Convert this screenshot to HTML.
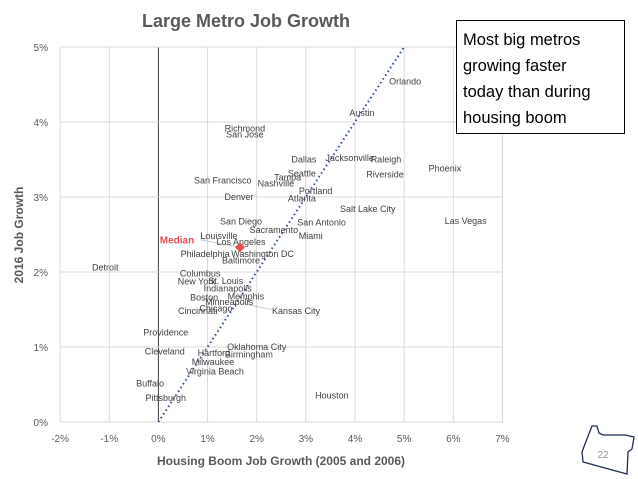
<!DOCTYPE html>
<html><head><meta charset="utf-8">
<style>
body{margin:0;background:#fff;}
svg{display:block;font-family:"Liberation Sans",sans-serif;}
</style></head>
<body>
<svg id="chart" width="638" height="479" viewBox="0 0 638 479">
<text x="246" y="27" text-anchor="middle" font-size="18" font-weight="bold" fill="#595959">Large Metro Job Growth</text>
<g id="grid"></g>
<g id="ticks"></g>
<g id="marks"></g>
<text x="458" y="464" text-anchor="middle" font-size="0" fill="#fff"></text>
<text x="281" y="465" text-anchor="middle" font-size="12" font-weight="bold" fill="#595959">Housing Boom Job Growth (2005 and 2006)</text>
<text transform="translate(23,235) rotate(-90)" text-anchor="middle" font-size="12" font-weight="bold" fill="#595959">2016 Job Growth</text>
<g>
<rect x="456.5" y="20.5" width="168" height="113" fill="#fff" stroke="#000" stroke-width="1"/>
<text font-size="16.5" fill="#000"><tspan x="463" y="45">Most big metros</tspan><tspan x="463" y="71">growing faster</tspan><tspan x="463" y="97">today than during</tspan><tspan x="463" y="123">housing boom</tspan></text>
</g>
<g>
<path d="M592,426 L597,426 L599,433 L603,435 L625,435 L634,437 L632,449 L628,452 L627,474 L583,462 L582,452 L585,444 Z" fill="none" stroke="#1f2f4f" stroke-width="1.3"/>
<text x="603" y="458" text-anchor="middle" font-size="10" fill="#999">22</text>
</g>
</svg>
<script>
const xTicks=[-2,-1,0,1,2,3,4,5,6,7];
const yTicks=[0,1,2,3,4,5];
const cities=["Orlando","Austin","Richmond","San Jose","Dallas","Jacksonville","Raleigh","Phoenix","Riverside","Seattle","Tampa","San Francisco","Nashville","Portland","Denver","Atlanta","Salt Lake City","Las Vegas","San Diego","San Antonio","Sacramento","Miami","Louisville","Los Angeles","Philadelphia","Washington DC","Baltimore","Detroit","Columbus","New York","St. Louis","Indianapolis","Boston","Memphis","Minneapolis","Chicago","Cincinnati","Kansas City","Providence","Oklahoma City","Cleveland","Hartford","Birmingham","Milwaukee","Virginia Beach","Buffalo","Pittsburgh","Houston"];
const boomGrowth=[5.02,4.14,1.76,1.76,2.96,3.89,4.63,5.83,4.61,2.92,2.63,1.31,2.39,3.2,1.64,2.92,4.26,6.25,1.68,3.32,2.35,3.1,1.23,1.68,0.95,2.12,1.68,-1.08,0.85,0.78,1.37,1.41,0.93,1.78,1.44,1.17,0.8,2.8,0.15,2.0,0.13,1.13,1.84,1.11,1.15,-0.17,0.15,3.53];
const growth2016=[4.55,4.13,3.92,3.84,3.51,3.53,3.51,3.39,3.31,3.32,3.27,3.23,3.19,3.09,3.01,2.99,2.85,2.69,2.68,2.67,2.57,2.49,2.49,2.41,2.25,2.25,2.16,2.07,1.99,1.88,1.89,1.79,1.67,1.68,1.61,1.52,1.49,1.49,1.2,1.01,0.95,0.93,0.91,0.81,0.68,0.52,0.33,0.36];
const medianX=[1.66], medianY=[2.33];
const trendX=[0,5], trendY=[0,5];

const NS="http://www.w3.org/2000/svg";
const xs=v=>158.4+v*49.15;
const ys=v=>422-v*75;
function mk(tag,attrs,parent){const e=document.createElementNS(NS,tag);for(const k in attrs)e.setAttribute(k,attrs[k]);parent.appendChild(e);return e;}
const grid=document.getElementById('grid'),ticks=document.getElementById('ticks'),marks=document.getElementById('marks');
xTicks.forEach(t=>{
  const l=mk('line',{x1:xs(t),x2:xs(t),y1:ys(5),y2:ys(0),stroke:t===0?'#404040':'#d9d9d9','stroke-width':1},grid);
  
  
  const tx=mk('text',{x:xs(t),y:442,'text-anchor':'middle','font-size':10,fill:'#595959'},ticks);
  tx.textContent=t+'%';
  
  
});
yTicks.forEach(t=>{
  const l=mk('line',{x1:xs(-2),x2:xs(7),y1:ys(t),y2:ys(t),stroke:'#d9d9d9','stroke-width':1},grid);
  
  
  const tx=mk('text',{x:48,y:ys(t)+4,'text-anchor':'end','font-size':10,fill:'#595959'},ticks);
  tx.textContent=t+'%';
  
  
});
const tl=mk('line',{x1:xs(trendX[0]),y1:ys(trendY[0]),x2:xs(trendX[1]),y2:ys(trendY[1]),stroke:'#2f4f8f','stroke-width':2,'stroke-dasharray':'1.5 3'},marks);


// leader lines
const ll1=mk('line',{x1:xs(1.7),y1:ys(1.58),x2:xs(2.3),y2:ys(1.5),stroke:'#bfbfbf','stroke-width':0.8},marks);


const ll2=mk('line',{x1:xs(0.85),y1:ys(2.43),x2:xs(medianX[0]),y2:ys(medianY[0]),stroke:'#bfbfbf','stroke-width':0.8},marks);


cities.forEach((c,i)=>{
  const t=mk('text',{x:xs(boomGrowth[i]),y:ys(growth2016[i])+3.5,'text-anchor':'middle','font-size':9,fill:'#404040'},marks);
  t.textContent=c;
  
  
});
const mx=xs(medianX[0]),my=ys(medianY[0]);
const d=mk('polygon',{points:`${mx},${my-5} ${mx+5},${my} ${mx},${my+5} ${mx-5},${my}`,fill:'#e8504f'},marks);


const ml=mk('text',{x:mx-63,y:my-4,'text-anchor':'middle','font-size':10,'font-weight':'bold',fill:'#e8504f'},marks);
ml.textContent='Median';


</script>
</body></html>
